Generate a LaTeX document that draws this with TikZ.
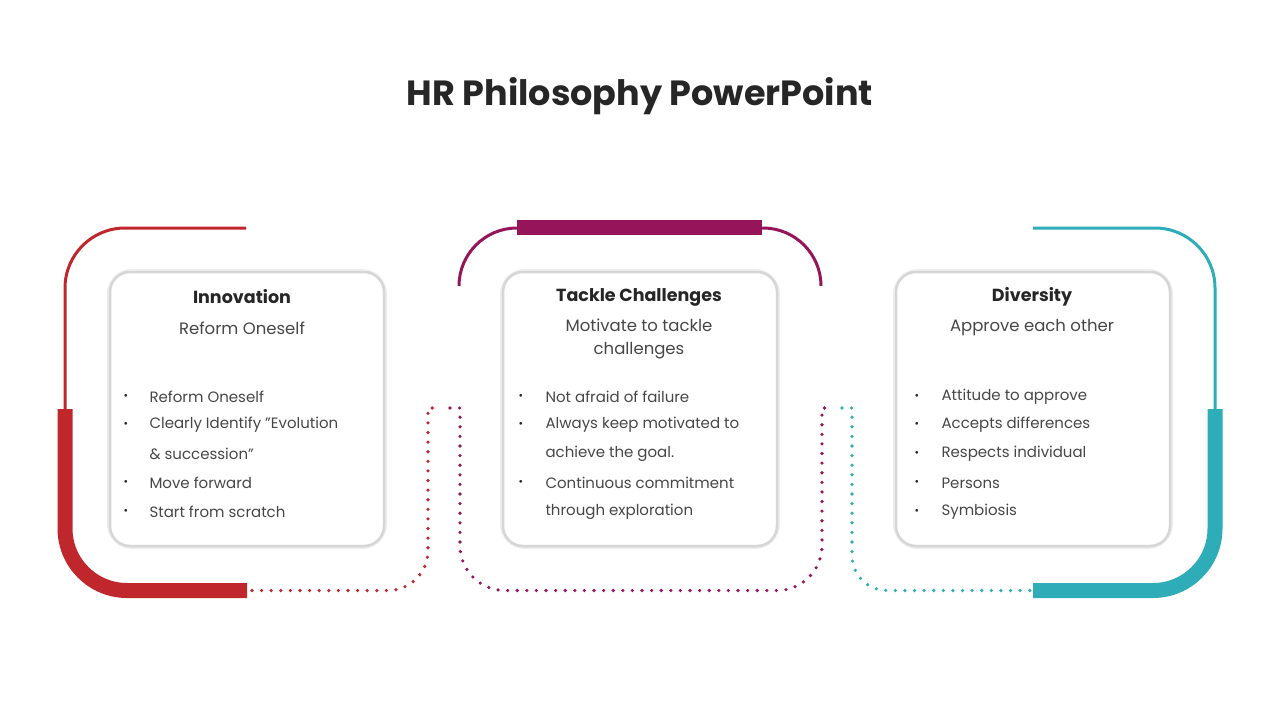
\documentclass[tikz,border=0pt]{standalone}
\usepackage{fontspec}
\setmainfont{Poppins}
\definecolor{cred}{HTML}{C0272D}
\definecolor{cpur}{HTML}{96155A}
\definecolor{cteal}{HTML}{2EACB8}
\definecolor{ctxt}{HTML}{262626}
\begin{document}
\begin{tikzpicture}[x=1pt,y=-1pt,
  thinl/.style={line width=3pt},
  thickl/.style={line width=15pt},
  dots/.style={line width=3.6pt,line cap=round,dash pattern=on 0pt off 9.6pt},
  card/.style={draw=black!16,line width=2.5pt,fill=white,rounded corners=20pt},
  head/.style={font=\fontsize{17.5}{22}\selectfont\bfseries,text=ctxt,anchor=center},
  sub/.style={font=\fontsize{16.5}{23}\selectfont,text=ctxt!85,align=center,anchor=center},
  item/.style={font=\fontsize{15}{20}\selectfont,text=ctxt!85,anchor=west},
  bul/.style={font=\fontsize{11}{14}\selectfont,text=ctxt,anchor=center}]
\useasboundingbox (0,0) rectangle (1280,720);
\node[font=\fontsize{35}{40}\selectfont\bfseries,text=ctxt] (title) at (640,96) {HR Philosophy PowerPoint};
% frames
\draw[cred,thinl,rounded corners=60pt] (246,228) -- (65,228) -- (65,412);
\draw[cred,thickl,rounded corners=62pt] (65,409) -- (65,590.5) -- (247,590.5);
\draw[cpur,thinl,rounded corners=58pt] (459,286) -- (459,228) -- (517,228);
\draw[cpur,thinl,rounded corners=58pt] (821,286) -- (821,228) -- (762,228);
\draw[cpur,thickl] (517,227) -- (762,227);
\draw[cteal,thinl,rounded corners=60pt] (1033,228) -- (1215,228) -- (1215,412);
\draw[cteal,thickl,rounded corners=62pt] (1215,409) -- (1215,590.5) -- (1033,590.5);
% dotted connectors
\draw[cred,dots] (252,590.5) [rounded corners=40pt] -- (428,590.5) [sharp corners] -- (428,408) -- (440,408);
\draw[cpur,dots] (450,408) -- (460,408) [rounded corners=45pt] -- (460,590.5) -- (822,590.5) [sharp corners] -- (822,408) -- (832,408);
\draw[cteal,dots] (842,408) -- (852,408) [rounded corners=35pt] -- (852,590.5) -- (1030,590.5);
% cards
\foreach \n/\x in {c1/110,c2/503,c3/896}{
  \draw[black!7,line width=6pt,rounded corners=22pt] (\x,272) rectangle ++(274,274);
  \draw[card] (\x,272) rectangle ++(274,274);
}
\node[head] (h1) at (242,297) {Innovation};
\node[sub] (s1) at (242,328) {Reform Oneself};
\node[head] (h2) at (639,297) {Tackle Challenges};
\node[sub] (s2) at (639,339) {Motivate to tackle\\challenges};
\node[head] (h3) at (1032,297) {Diversity};
\node[sub] (s3) at (1032,328) {Approve each other};
% bullets
\foreach \b/\t/\y in {1/Reform Oneself/397, 1/{Clearly Identify "Evolution}/425, 0/{\& succession"}/454, 1/Move forward/483, 1/Start from scratch/512}{
  \ifnum\b=1 \node[bul] at (126,\y) {•};\fi
  \node[item] at (146,\y) {\t};}
\foreach \b/\t/\y in {1/Not afraid of failure/397, 1/Always keep motivated to/425, 0/achieve the goal./454, 1/Continuous commitment/483, 0/through exploration/512}{
  \ifnum\b=1 \node[bul] at (521,\y) {•};\fi
  \node[item] at (542,\y) {\t};}
\foreach \t/\y in {Attitude to approve/397, Accepts differences/425, Respects individual/454, Persons/483, Symbiosis/512}{
  \node[bul] at (917,\y) {•};
  \node[item] at (938,\y) {\t};}
\end{tikzpicture}
\end{document}
